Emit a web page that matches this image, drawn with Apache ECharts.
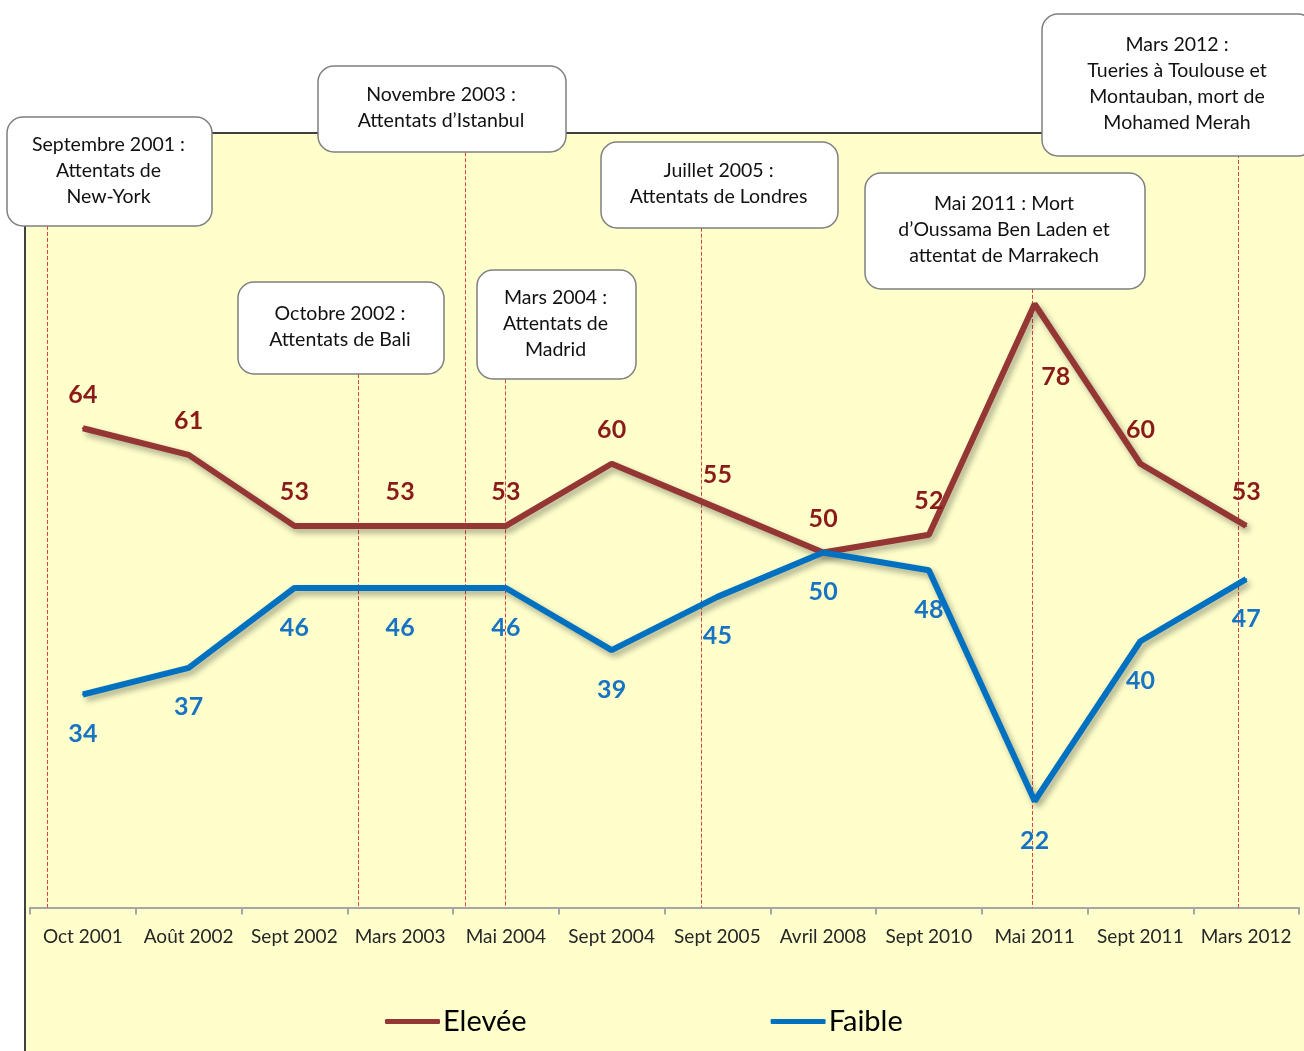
<!DOCTYPE html>
<html>
<head>
<meta charset="utf-8">
<script src="https://cdn.jsdelivr.net/npm/echarts@6/dist/echarts.min.js"></script>
<style>
  html, body { margin: 0; padding: 0; background: #fff; }
  #chart { width: 1304px; height: 1051px; }
</style>
</head>
<body>
<div id="chart"></div>
<script>
const categories = ['Oct 2001', 'Août 2002', 'Sept 2002', 'Mars 2003', 'Mai 2004', 'Sept 2004',
  'Sept 2005', 'Avril 2008', 'Sept 2010', 'Mai 2011', 'Sept 2011', 'Mars 2012']
const elevee = [64, 61, 53, 53, 53, 60, 55, 50, 52, 78, 60, 53]
const faible = [34, 37, 46, 46, 46, 39, 45, 50, 48, 22, 40, 47]

// events: position along the axis in category units (0 = left edge), top of the dashed line in y units
const eventTexts = [
  'Septembre 2001 :\nAttentats de\nNew-York',
  'Octobre 2002 :\nAttentats de Bali',
  'Novembre 2003 :\nAttentats d’Istanbul',
  'Mars 2004 :\nAttentats de\nMadrid',
  'Juillet 2005 :\nAttentats de Londres',
  'Mai 2011 : Mort\nd’Oussama Ben Laden et\nattentat de Marrakech',
  'Mars 2012 :\nTueries à Toulouse et\nMontauban, mort de\nMohamed Merah'
]
const eventPos = [0.16, 3.10, 4.12, 4.49, 6.35, 9.48, 11.43]
const eventTop = [86.8, 70.1, 95.1, 69.5, 86.6, 79.7, 94.9]
// callout boxes [x, y, w, h]
const eventBoxes = [
  [7, 117, 205, 109],
  [238, 282, 206, 92],
  [318, 66, 248, 86],
  [477, 270, 159, 109],
  [601, 142, 237, 86],
  [865, 173, 280, 116],
  [1042, 14, 272, 142]
]

const FONT = 'Lato, "Open Sans", sans-serif'

const chart = echarts.init(document.getElementById('chart'))

const callouts = []
eventTexts.forEach((t, i) => {
  const [x, y, w, h] = eventBoxes[i]
  callouts.push({
    type: 'rect',
    z: 100,
    shape: { x: x, y: y, width: w, height: h, r: 16 },
    style: { fill: '#fff', stroke: '#7f7f7f', lineWidth: 1.5 }
  })
  callouts.push({
    type: 'text',
    z: 101,
    x: x + w / 2 - 1,
    y: y + h / 2 - 1,
    style: {
      text: t,
      fontFamily: FONT,
      fontSize: 19.5,
      lineHeight: 26,
      fill: '#111',
      align: 'center',
      verticalAlign: 'middle'
    }
  })
})

const labelTop = { show: true, position: 'top', distance: 20, fontSize: 25, fontWeight: 'bold', fontFamily: FONT, color: '#8b1a1a' }
const labelBottom = { show: true, position: 'bottom', distance: 26, fontSize: 25, fontWeight: 'bold', fontFamily: FONT, color: '#1874c3' }

const eleveeData = elevee.map((v, i) => i === 9
  ? { value: v, label: { position: 'bottom', offset: [21, 39] } }
  : v)

const option = {
  backgroundColor: '#fff',
  animation: false,
  graphic: [
    {
      type: 'rect',
      z: -10,
      shape: { x: 25, y: 133, width: 1300, height: 940 },
      style: { fill: '#ffffcc', stroke: '#404040', lineWidth: 2 }
    },
    ...callouts
  ],
  legend: {
    data: [{ name: 'Elevée', icon: 'roundRect' }, { name: 'Faible', icon: 'roundRect' }],
    left: 380,
    top: 1002,
    itemWidth: 55,
    itemHeight: 5,
    itemGap: 244,
    textStyle: { fontSize: 29, fontFamily: FONT, color: '#000', padding: [0, 0, 0, -2] }
  },
  grid: { left: 30, right: 5, top: 108.75, bottom: 143.5 },
  xAxis: [
    {
      type: 'category',
      data: categories,
      boundaryGap: true,
      axisLine: { lineStyle: { color: '#a6a6a6', width: 2 } },
      axisTick: { show: true, length: 7, lineStyle: { color: '#a6a6a6', width: 2 } },
      axisLabel: { fontSize: 19, fontFamily: FONT, color: '#262626', margin: 20, interval: 0 }
    },
    { type: 'value', min: 0, max: 12, show: false }
  ],
  yAxis: {
    type: 'value',
    min: 10,
    max: 100,
    show: false,
    splitLine: { show: false }
  },
  series: [
    {
      name: 'Elevée',
      type: 'line',
      data: eleveeData,
      symbol: 'circle',
      symbolSize: 2,
      z: 5,
      itemStyle: { color: '#943634' },
      lineStyle: {
        color: '#943634', width: 6,
        shadowColor: 'rgba(0,0,0,0.35)', shadowBlur: 6, shadowOffsetX: 3, shadowOffsetY: 4
      },
      label: labelTop
    },
    {
      name: 'Faible',
      type: 'line',
      data: faible,
      symbol: 'circle',
      symbolSize: 2,
      z: 5,
      itemStyle: { color: '#0070c0' },
      lineStyle: {
        color: '#0070c0', width: 6,
        shadowColor: 'rgba(0,0,0,0.35)', shadowBlur: 6, shadowOffsetX: 3, shadowOffsetY: 4
      },
      label: labelBottom
    },
    {
      name: 'events',
      type: 'line',
      xAxisIndex: 1,
      data: [],
      z: 3,
      markLine: {
        silent: true,
        symbol: 'none',
        label: { show: false },
        lineStyle: { color: '#d9434a', type: [4, 2], width: 1 },
        data: eventPos.map((p, i) => [{ coord: [p, eventTop[i]] }, { coord: [p, 10] }])
      }
    }
  ]
}

chart.setOption(option)
</script>
</body>
</html>
